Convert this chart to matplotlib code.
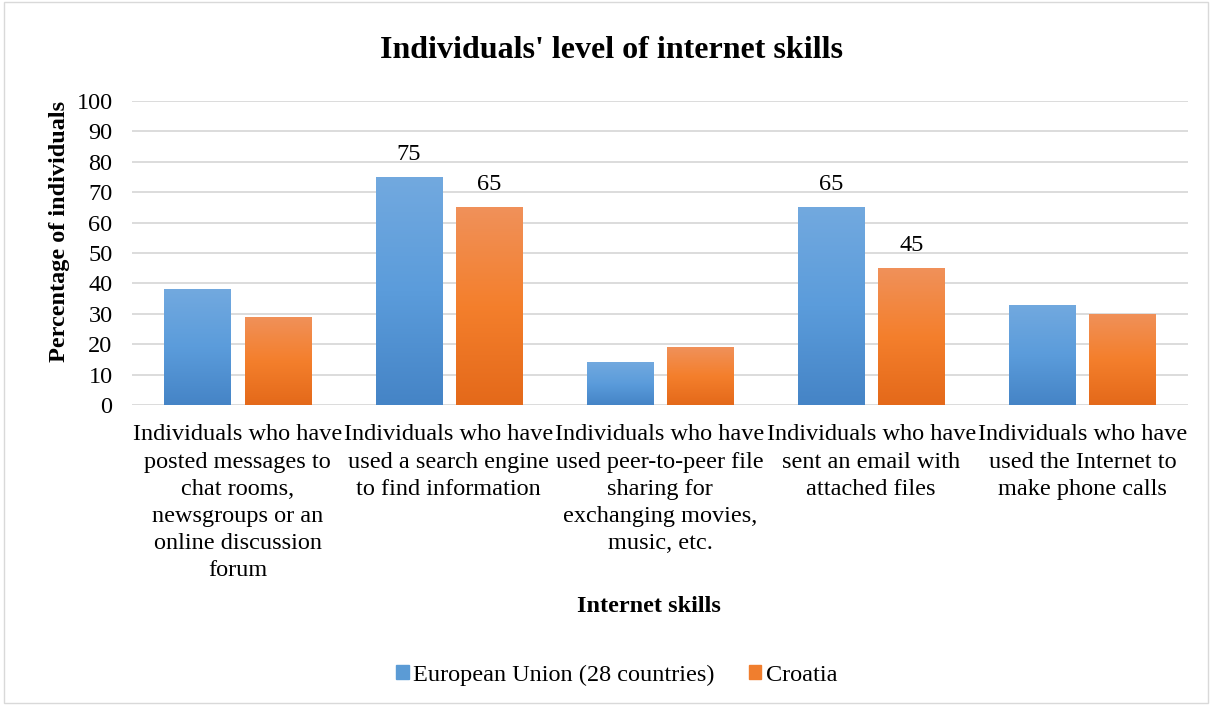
import numpy as np
import matplotlib
matplotlib.use('Agg')
from matplotlib import pyplot as plt
from matplotlib.colors import LinearSegmentedColormap
from matplotlib.patches import Rectangle

plt.rcParams['font.family'] = ['Liberation Serif', 'DejaVu Serif']

# data
categories = ['Individuals who have\nposted messages to\nchat rooms,\nnewsgroups or an\nonline discussion\nforum',
              'Individuals who have\nused a search engine\nto find information',
              'Individuals who have\nused peer-to-peer file\nsharing for\nexchanging movies,\nmusic, etc.',
              'Individuals who have\nsent an email with\nattached files',
              'Individuals who have\nused the Internet to\nmake phone calls']
eu = [38, 75, 14, 65, 33]
hr = [29, 65, 19, 45, 30]
labelled = [1, 3]   # categories with data labels
series_names = ['European Union (28 countries)', 'Croatia']

fs = 17.5
fig = plt.figure(figsize=(12.12, 7.05), dpi=100)
ax = fig.add_axes([132/1212, 1-405/705, (1188-132)/1212, (405-101)/705])

# outer border
fig.patches.append(Rectangle((0.003, 0.003), 0.994, 0.994, transform=fig.transFigure,
                             fill=False, edgecolor='#D9D9D9', linewidth=1))

eu_cmap = LinearSegmentedColormap.from_list('eu', ['#4584C6', '#5B9CDB', '#72A9DF'])
hr_cmap = LinearSegmentedColormap.from_list('hr', ['#E4691A', '#F47F2C', '#F0915A'])

x = np.arange(len(categories))
w = 0.313
off = 0.19
grad = np.linspace(0, 1, 256).reshape(-1, 1)

def gbar(xc, h, cmap):
    bar = ax.bar(xc, h, w, color='none', edgecolor='none')[0]
    im = ax.imshow(grad, cmap=cmap, aspect='auto', origin='lower',
                   extent=[xc - w/2, xc + w/2, 0, h], zorder=3)
    im.set_clip_path(bar)

for i in range(len(categories)):
    gbar(x[i] - off, eu[i], eu_cmap)
    gbar(x[i] + off, hr[i], hr_cmap)
    if i in labelled:
        ax.text(x[i] - off, eu[i] + 4, str(eu[i]), ha='center', va='bottom', fontsize=fs)
        ax.text(x[i] + off, hr[i] + 4, str(hr[i]), ha='center', va='bottom', fontsize=fs)

ax.set_xlim(-0.5, len(categories) - 0.5)
ax.set_ylim(0, 100)
ax.set_yticks(range(0, 101, 10))
ax.set_xticks(x)
ax.set_xticklabels(categories, fontsize=fs, linespacing=1.38)
ax.tick_params(axis='both', length=0, labelsize=fs)
ax.tick_params(axis='x', pad=14)
ax.tick_params(axis='y', pad=14)
ax.grid(axis='y', color='#D9D9D9', linewidth=1.3, zorder=0)
ax.set_axisbelow(True)
for s in ax.spines.values():
    s.set_visible(False)

ax.set_ylabel('Percentage of individuals', fontsize=fs, fontweight='bold')
ax.yaxis.set_label_coords((70 - 132) / (1188 - 132), (405 - 231) / 304)
fig.text(649/1212, 1 - 607/705, 'Internet skills', ha='center', va='center', fontsize=fs, fontweight='bold')
fig.text(612/1212, 1 - 50/705, "Individuals' level of internet skills", ha='center', va='center',
         fontsize=23, fontweight='bold')

handles = [Rectangle((0, 0), 1, 1, color='#5B9BD5'), Rectangle((0, 0), 1, 1, color='#F07E2E')]
fig.legend(handles, series_names, loc='center', bbox_to_anchor=(617/1212, 1 - 675/705), ncol=2,
           frameon=False, fontsize=fs, handlelength=0.5, handleheight=0.5, handletextpad=0.2,
           columnspacing=1.4)

fig.savefig('out.png', dpi=100)
